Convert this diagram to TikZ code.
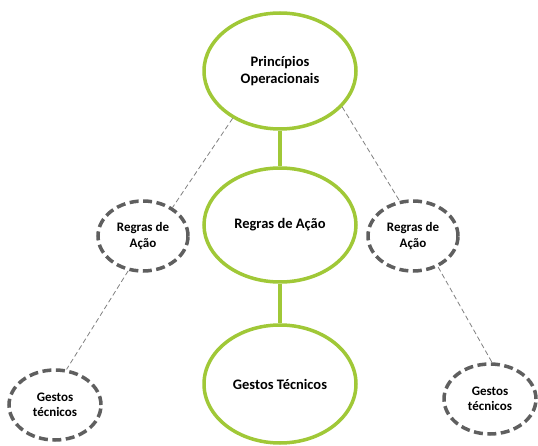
\documentclass[tikz,border=0pt]{standalone}
\usepackage{fontspec}
\setmainfont{Carlito}
\usetikzlibrary{shapes.geometric}

\definecolor{leafgreen}{RGB}{160,200,55}
\definecolor{dashgray}{RGB}{95,95,95}

\tikzset{
  mainbubble/.style={ellipse,draw=leafgreen,line width=3.5pt,fill=white,
    minimum width=152pt,minimum height=116pt,align=center,
    font=\bfseries\fontsize{14.5}{17}\selectfont},
  sidebubble/.style={ellipse,draw=dashgray,line width=3.5pt,fill=white,
    dash pattern=on 9pt off 4.5pt,minimum width=90pt,minimum height=70pt,
    align=center,font=\bfseries\fontsize{13}{15.5}\selectfont,inner sep=0pt},
  link/.style={draw=gray,line width=0.8pt,dash pattern=on 5pt off 3pt}
}

\begin{document}
\begin{tikzpicture}[x=1pt,y=-1pt]
   \useasboundingbox (0,0) rectangle (538,446);

   % centre column
   \node[mainbubble] (princ) at (280,71) {Princípios\\Operacionais};
   \node[mainbubble,minimum height=114pt] (regras) at (280,225) {Regras de Ação};
   \node[mainbubble,minimum height=118pt] (gestos) at (280,384) {Gestos Técnicos};

   % side bubbles
   \node[sidebubble] (regrasL) at (143,236) {Regras de\\Ação};
   \node[sidebubble] (regrasR) at (413,236) {Regras de\\Ação};
   \node[sidebubble,minimum width=92pt] (gestosL) at (55,405) {Gestos\\técnicos};
   \node[sidebubble,minimum width=92pt] (gestosR) at (490,399) {Gestos\\técnicos};

   \draw[leafgreen,line width=3.5pt] (princ.south) -- (regras.north);
   \draw[leafgreen,line width=3.5pt] (regras.south) -- (gestos.north);

   \draw[link] (princ.225) -- (regrasL.44);
   \draw[link] (princ.330) -- (regrasR.111);
   \draw[link] (regrasL.247) -- (gestosL.72);
   \draw[link] (regrasR.309) -- (gestosR.87);
\end{tikzpicture}
\end{document}
